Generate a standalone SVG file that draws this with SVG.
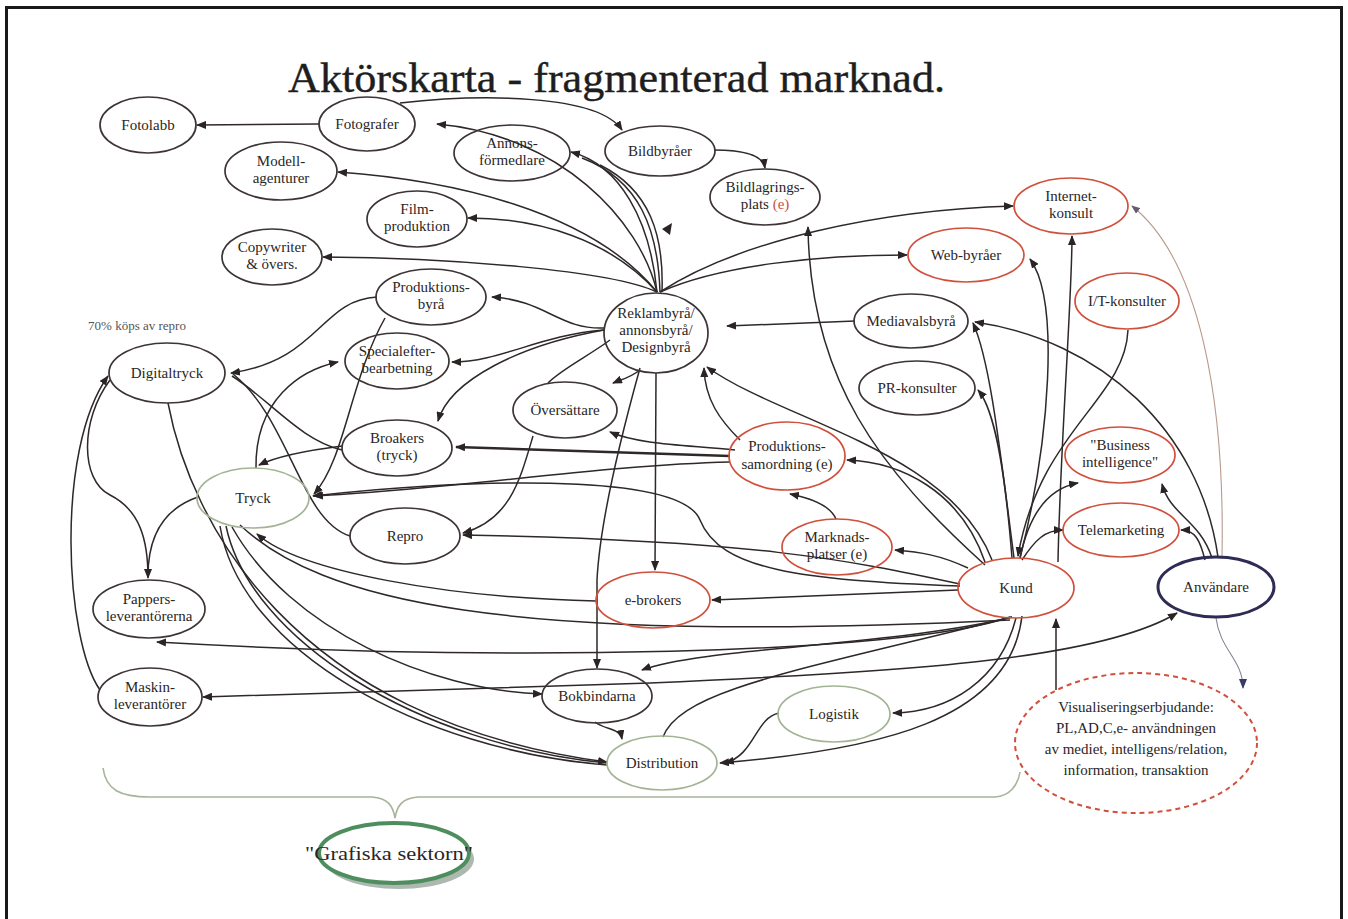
<svg xmlns="http://www.w3.org/2000/svg" width="1348" height="919" viewBox="0 0 1348 919">
  <defs>
    <marker id="arr" viewBox="0 0 10 8" refX="9" refY="4" markerWidth="10" markerHeight="8" markerUnits="userSpaceOnUse" orient="auto-start-reverse">
      <path d="M0,0 L10,4 L0,8 Z" fill="#2b2424"/>
    </marker>
    <marker id="arrNavy" viewBox="0 0 10 8" refX="9" refY="4" markerWidth="10" markerHeight="8" markerUnits="userSpaceOnUse" orient="auto">
      <path d="M0,0 L10,4 L0,8 Z" fill="#3a3a6a"/>
    </marker>
    <marker id="arrThin" viewBox="0 0 10 8" refX="9" refY="4" markerWidth="9" markerHeight="7" markerUnits="userSpaceOnUse" orient="auto">
      <path d="M0,0 L10,4 L0,8 Z" fill="#6a5a70"/>
    </marker>
    <style>
      .n ellipse { fill: none; stroke: #3d3434; stroke-width: 1.7; }
      .n.red ellipse { stroke: #d0503c; }
      .n.green ellipse { stroke: #a3b495; }
      .n.user ellipse { stroke: #2e2c55; stroke-width: 3; }
      .n.dash ellipse { stroke: #d0503c; stroke-width: 2; stroke-dasharray: 5 4; }
      .n text, .lbl { font-family: "Liberation Serif", "Times New Roman", serif; font-size: 15px; fill: #2a2626; text-anchor: middle; }
      .c path { fill: none; stroke: #2f2828; stroke-width: 1.5; }
      .c path.a { marker-end: url(#arr); }
      .c path.thick { stroke-width: 2.4; }
      .c path.thin { stroke: #b89a8c; stroke-width: 1.1; }
      .c path.navy { stroke: #8a8090; stroke-width: 1.1; marker-end: url(#arrNavy); }
      .c path.head { fill: #2b2424; stroke: none; }
    </style>
  </defs>

  <rect x="0" y="0" width="1348" height="919" fill="#ffffff"/>
  <rect x="6.5" y="7.5" width="1335" height="930" fill="none" stroke="#1a1a1a" stroke-width="3"/>

  <text x="288" y="92" font-family="Liberation Serif, Times New Roman, serif" font-size="42" fill="#1e1e1e" stroke="#1e1e1e" stroke-width="0.4" textLength="657" lengthAdjust="spacingAndGlyphs">Aktörskarta - fragmenterad marknad.</text>

  <text class="lbl" x="137" y="330" style="font-size:13px;fill:#555">70% köps av repro</text>

  <!-- bracket grouping the graphic sector -->
  <path d="M103,768 C106,790 120,797 150,797 L372,797 C388,798 393,806 395,818 C397,806 402,798 418,797 L995,797 C1010,796 1018,785 1020,772" fill="none" stroke="#a6b49a" stroke-width="1.6"/>

  <g id="connectors" class="c">
    <!-- top cluster -->
    <path class="a" d="M319,124 L197,125"/>
    <path class="a" d="M400,103 C480,94 598,94 622,130"/>
    <path class="a" d="M657,292 C640,220 560,135 437,124"/>
    <path class="a" d="M657,292 C650,220 620,165 571,152"/>
    <path d="M660,292 C658,230 640,180 582,158"/>
    <path d="M662,292 C664,235 650,190 600,165"/>
    <path class="a" d="M657,292 C590,210 450,180 338,172"/>
    <path class="a" d="M657,292 C610,240 540,218 468,218"/>
    <path class="a" d="M657,292 C610,270 450,258 323,257"/>
    <path class="a" d="M660,292 C720,265 820,255 907,255"/>
    <path class="a" d="M660,292 C740,240 880,210 1013,206"/>
    <path class="a" d="M714,150 C745,150 763,155 765,168"/>
    <path class="a" d="M985,565 C880,470 810,380 808,227"/>
    <!-- right cluster -->
    <path class="a" d="M1058,562 C1060,450 1072,300 1072,236"/>
    <path class="a" d="M1020,558 C1050,440 1060,300 1030,259"/>
    <path class="a" d="M1014,558 C1000,450 990,360 973,323"/>
    <path class="a" d="M1012,558 C1005,470 995,410 978,390"/>
    <path class="a" d="M1128,330 C1125,400 1040,430 1018,556"/>
    <path class="a" d="M1020,558 C1030,510 1050,488 1078,483"/>
    <path class="a" d="M1022,560 C1035,540 1045,530 1063,530"/>
    <path class="a" d="M1212,558 C1200,520 1170,515 1162,484"/>
    <path class="a" d="M1205,560 C1200,540 1195,530 1181,530"/>
    <path class="a" d="M1218,557 C1200,430 1100,340 975,322"/>
    <path class="thin" d="M1222,557 C1225,400 1200,260 1132,206" marker-end="url(#arrThin)"/>
    <path class="navy" d="M1216,618 C1220,650 1243,660 1243,688"/>
    <path class="a" d="M1056,690 L1056,619"/>
    <path class="a" d="M1177,613 C1100,660 900,672 650,683 L203,697" marker-start="url(#arr)"/>
    <!-- from Kund downwards / left -->
    <path class="a" d="M1010,617 C900,655 500,662 157,642"/>
    <path class="a" d="M1012,617 C900,645 700,648 642,670"/>
    <path class="a" d="M1016,618 C1000,680 950,712 893,713"/>
    <path class="a" d="M1022,616 C1010,720 880,750 720,763"/>
    <path d="M663,737 C680,690 800,670 1012,617"/>
    <path class="a" d="M595,722 C605,730 620,728 622,739"/>
    <path class="a" d="M779,713 C755,718 755,755 725,763"/>
    <path class="a" d="M958,590 L712,600"/>
    <path class="a" d="M968,568 C940,555 920,552 895,550"/>
    <path class="a" d="M985,562 C960,490 900,462 847,460"/>
    <path class="a" d="M992,560 C950,450 780,420 707,367"/>
    <path class="a" d="M836,519 C830,505 810,498 790,494"/>
    <path class="a" d="M960,584 C850,560 750,540 463,535"/>
    <path class="a" d="M960,586 C800,580 720,570 700,520 C680,470 450,480 313,496"/>
    <path class="a" d="M596,601 C450,598 300,572 257,534"/>
    <!-- central cluster -->
    <path class="a thick" d="M730,456 L456,447"/>
    <path class="a" d="M735,450 C690,445 640,445 610,432"/>
    <path class="a" d="M740,440 C720,420 705,400 704,368"/>
    <path class="a" d="M855,321 L727,326"/>
    <path class="a" d="M640,370 C630,378 620,380 613,383"/>
    <path class="a" d="M656,373 L655,570"/>
    <path class="a" d="M640,368 C620,440 600,520 597,580 L597,668"/>
    <path class="a" d="M604,328 C560,330 545,300 492,297"/>
    <path class="a" d="M604,330 C540,335 500,362 452,362"/>
    <path class="a" d="M604,330 C520,345 450,380 438,421"/>
    <path d="M610,340 C590,355 560,370 548,383"/>
    <path class="a" d="M533,436 C520,480 510,520 463,533"/>
    <path class="a" d="M730,462 C600,465 450,490 314,496"/>
    <!-- left cluster -->
    <path class="a" d="M377,297 C320,300 320,360 231,373"/>
    <path class="a" d="M385,318 C350,380 345,460 314,494"/>
    <path class="a" d="M256,468 C255,400 300,370 338,362"/>
    <path class="a" d="M342,446 C310,450 280,455 259,465"/>
    <path d="M342,450 C300,440 270,400 232,376"/>
    <path d="M350,536 C300,520 290,420 233,374"/>
    <path class="a" d="M100,690 C65,640 55,450 108,376"/>
    <path class="a" d="M110,380 C80,420 80,480 110,495 C140,510 148,540 148,578"/>
    <path d="M198,497 C160,510 148,540 148,576"/>
    <path class="a" d="M168,403 C190,520 290,720 607,762"/>
    <path d="M220,526 C240,650 420,750 607,765"/>
    <path d="M226,526 C250,640 420,745 607,763"/>
    <path class="a" d="M232,527 C290,630 430,690 542,694"/>
    <path d="M240,525 C320,600 500,645 1010,620"/>
    <!-- loose arrowhead -->
    <path class="head" d="M662,229 L672,223 L670,235 Z"/>
  </g>

  <g id="n-fotolabb" class="n"><ellipse cx="148" cy="125" rx="48" ry="28"/><text x="148" y="130">Fotolabb</text></g>
  <g id="n-fotografer" class="n"><ellipse cx="367" cy="124" rx="48" ry="27"/><text x="367" y="129">Fotografer</text></g>
  <g id="n-annons" class="n"><ellipse cx="512" cy="153" rx="58" ry="28"/><text x="512" y="148">Annons-<tspan x="512" dy="17">förmedlare</tspan></text></g>
  <g id="n-bildbyraer" class="n"><ellipse cx="660" cy="151" rx="55" ry="25"/><text x="660" y="156">Bildbyråer</text></g>
  <g id="n-bildlagring" class="n"><ellipse cx="765" cy="197" rx="55" ry="28"/><text x="765" y="192">Bildlagrings-<tspan x="765" dy="17">plats <tspan fill="#d0503c">(e)</tspan></tspan></text></g>
  <g id="n-modell" class="n"><ellipse cx="281" cy="171" rx="56" ry="29"/><text x="281" y="166">Modell-<tspan x="281" dy="17">agenturer</tspan></text></g>
  <g id="n-film" class="n"><ellipse cx="417" cy="219" rx="50" ry="28"/><text x="417" y="214">Film-<tspan x="417" dy="17">produktion</tspan></text></g>
  <g id="n-copywriter" class="n"><ellipse cx="272" cy="257" rx="50" ry="28"/><text x="272" y="252">Copywriter<tspan x="272" dy="17">&amp; övers.</tspan></text></g>
  <g id="n-internet" class="n red"><ellipse cx="1071" cy="206" rx="57" ry="28"/><text x="1071" y="201">Internet-<tspan x="1071" dy="17">konsult</tspan></text></g>
  <g id="n-webbyraer" class="n red"><ellipse cx="966" cy="255" rx="58" ry="27"/><text x="966" y="260">Web-byråer</text></g>
  <g id="n-itkonsulter" class="n red"><ellipse cx="1127" cy="301" rx="52" ry="28"/><text x="1127" y="306">I/T-konsulter</text></g>
  <g id="n-produktionsbyra" class="n"><ellipse cx="431" cy="297" rx="55" ry="28"/><text x="431" y="292">Produktions-<tspan x="431" dy="17">byrå</tspan></text></g>
  <g id="n-reklambyra" class="n"><ellipse cx="656" cy="333" rx="52" ry="40"/><text x="656" y="318">Reklambyrå/<tspan x="656" dy="17">annonsbyrå/</tspan><tspan x="656" dy="17">Designbyrå</tspan></text></g>
  <g id="n-mediavals" class="n"><ellipse cx="911" cy="321" rx="57" ry="27"/><text x="911" y="326">Mediavalsbyrå</text></g>
  <g id="n-pr" class="n"><ellipse cx="917" cy="388" rx="58" ry="27"/><text x="917" y="393">PR-konsulter</text></g>
  <g id="n-digitaltryck" class="n"><ellipse cx="167" cy="373" rx="58" ry="30"/><text x="167" y="378">Digitaltryck</text></g>
  <g id="n-special" class="n"><ellipse cx="397" cy="361" rx="52" ry="28"/><text x="397" y="356">Specialefter-<tspan x="397" dy="17">bearbetning</tspan></text></g>
  <g id="n-oversattare" class="n"><ellipse cx="565" cy="410" rx="52" ry="28"/><text x="565" y="415">Översättare</text></g>
  <g id="n-broakers" class="n"><ellipse cx="397" cy="448" rx="55" ry="28"/><text x="397" y="443">Broakers<tspan x="397" dy="17">(tryck)</tspan></text></g>
  <g id="n-prodsamordning" class="n red"><ellipse cx="787" cy="456" rx="58" ry="34"/><text x="787" y="451">Produktions-<tspan x="787" dy="18">samordning (e)</tspan></text></g>
  <g id="n-bi" class="n red"><ellipse cx="1120" cy="455" rx="55" ry="28"/><text x="1120" y="450">"Business<tspan x="1120" dy="17">intelligence"</tspan></text></g>
  <g id="n-tryck" class="n green"><ellipse cx="253" cy="498" rx="56" ry="30"/><text x="253" y="503">Tryck</text></g>
  <g id="n-repro" class="n"><ellipse cx="405" cy="536" rx="55" ry="28"/><text x="405" y="541">Repro</text></g>
  <g id="n-marknadsplatser" class="n red"><ellipse cx="837" cy="547" rx="55" ry="28"/><text x="837" y="542">Marknads-<tspan x="837" dy="17">platser (e)</tspan></text></g>
  <g id="n-telemarketing" class="n red"><ellipse cx="1121" cy="530" rx="58" ry="27"/><text x="1121" y="535">Telemarketing</text></g>
  <g id="n-kund" class="n red"><ellipse cx="1016" cy="588" rx="58" ry="30"/><text x="1016" y="593">Kund</text></g>
  <g id="n-anvandare" class="n user"><ellipse cx="1216" cy="587" rx="58" ry="30"/><text x="1216" y="592">Användare</text></g>
  <g id="n-ebrokers" class="n red"><ellipse cx="653" cy="600" rx="57" ry="28"/><text x="653" y="605">e-brokers</text></g>
  <g id="n-pappers" class="n"><ellipse cx="149" cy="609" rx="56" ry="29"/><text x="149" y="604">Pappers-<tspan x="149" dy="17">leverantörerna</tspan></text></g>
  <g id="n-maskin" class="n"><ellipse cx="150" cy="697" rx="52" ry="29"/><text x="150" y="692">Maskin-<tspan x="150" dy="17">leverantörer</tspan></text></g>
  <g id="n-bokbindarna" class="n"><ellipse cx="597" cy="696" rx="55" ry="27"/><text x="597" y="701">Bokbindarna</text></g>
  <g id="n-logistik" class="n green"><ellipse cx="834" cy="714" rx="56" ry="28"/><text x="834" y="719">Logistik</text></g>
  <g id="n-distribution" class="n green"><ellipse cx="662" cy="763" rx="55" ry="27"/><text x="662" y="768">Distribution</text></g>
  <g id="n-visualisering" class="n dash"><ellipse cx="1136" cy="743" rx="121" ry="70"/><text x="1136" y="712">Visualiseringserbjudande:<tspan x="1136" dy="21">PL,AD,C,e- användningen</tspan><tspan x="1136" dy="21">av mediet, intelligens/relation,</tspan><tspan x="1136" dy="21">information, transaktion</tspan></text></g>
  <g id="n-grafiska">
    <ellipse cx="399" cy="859" rx="75" ry="30" fill="#8a9a90" opacity="0.7"/>
    <ellipse cx="394" cy="853" rx="75" ry="30" fill="#ffffff" stroke="#4e8e5e" stroke-width="4"/>
    <text class="lbl" x="389" y="860" style="font-size:18px" textLength="168" lengthAdjust="spacingAndGlyphs">"Grafiska sektorn"</text>
  </g>
</svg>
